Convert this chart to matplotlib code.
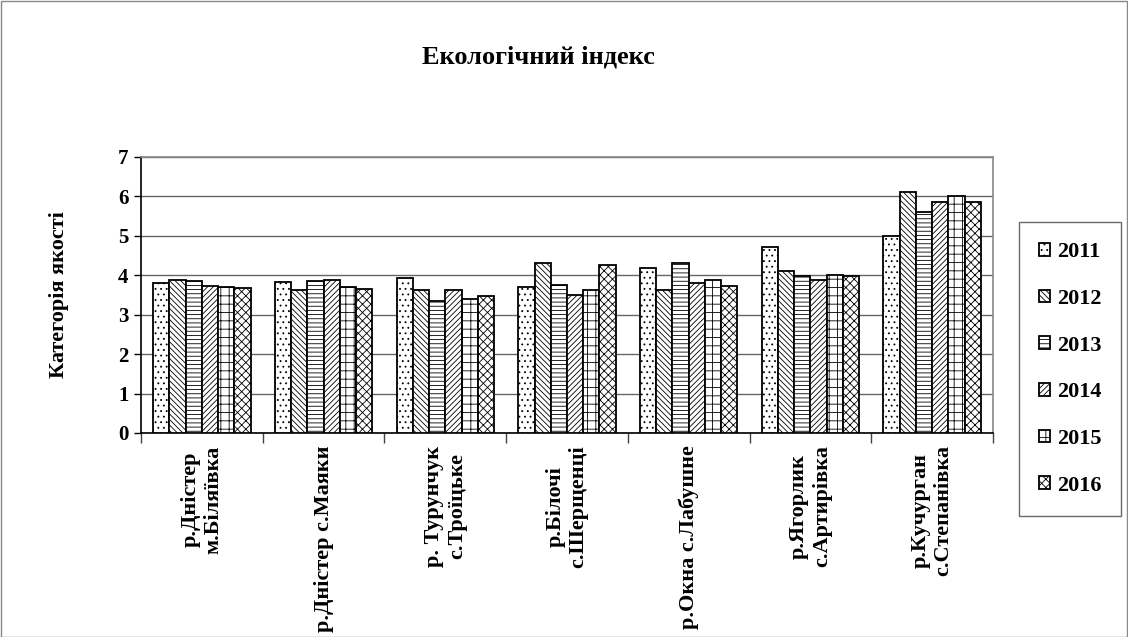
import matplotlib
matplotlib.use("Agg")
import matplotlib.pyplot as plt
import numpy as np
from matplotlib.patches import Rectangle

plt.rcParams['font.family'] = ['Liberation Serif', 'DejaVu Serif']
plt.rcParams['hatch.linewidth'] = 0.6
plt.rcParams['hatch.color'] = '#333333'

categories = ["р.Дністер\nм.Біляївка", "р.Дністер с.Маяки", "р. Турунчук\nс.Троїцьке",
              "р.Білочі\nс.Шерщенці", "р.Окна с.Лабушне", "р.Ягорлик\nс.Артирівка",
              "р.Кучурган\nс.Степанівка"]
years = ["2011", "2012", "2013", "2014", "2015", "2016"]
v2011 = [3.80, 3.83, 3.92, 3.70, 4.19, 4.73, 5.00]
v2012 = [3.89, 3.62, 3.62, 4.30, 3.62, 4.10, 6.11]
v2013 = [3.85, 3.85, 3.36, 3.76, 4.30, 3.98, 5.60]
v2014 = [3.74, 3.89, 3.62, 3.50, 3.80, 3.89, 5.86]
v2015 = [3.70, 3.71, 3.39, 3.62, 3.88, 4.01, 6.00]
v2016 = [3.69, 3.65, 3.47, 4.27, 3.72, 3.98, 5.86]
series = [v2011, v2012, v2013, v2014, v2015, v2016]
hatches = ['...', '\\\\\\\\\\\\', '----', '//////', '++', 'xxxx']

W, H = 1128, 637
fig = plt.figure(figsize=(W/100, H/100), dpi=100)
ax = fig.add_axes([141/W, 1-433/H, (993-141)/W, (433-157)/H])

n = len(series)
x = np.arange(len(categories))
bw = 0.8 / n
for i, (vals, h, lab) in enumerate(zip(series, hatches, years)):
    ax.bar(x - 0.4 + bw*(i+0.5), vals, width=bw, facecolor='white', edgecolor='black',
           linewidth=1.3, hatch=h, label=lab, zorder=3)

ax.set_xlim(-0.5, len(categories)-0.5)
ax.set_ylim(0, 7)
ax.set_yticks(range(0, 8))
ax.set_yticklabels([str(i) for i in range(8)], fontsize=15, fontweight='bold')
ax.yaxis.grid(True, color='#666666', linewidth=1.0, zorder=0)
ax.set_axisbelow(True)
ax.set_xticks(x)
ax.set_xticklabels(categories, rotation=90, fontsize=16, fontweight='bold',
                   va='top', ha='center', multialignment='center', linespacing=1.2)
ax.tick_params(axis='x', which='major', length=0, pad=9)
ax.set_xticks(np.arange(-0.5, len(categories)), minor=True)
ax.tick_params(axis='x', which='minor', length=7, width=1, color='#444444')
ax.tick_params(axis='y', length=5, width=1, pad=4)
for s in ['top', 'right']:
    ax.spines[s].set_color('#888888')
    ax.spines[s].set_linewidth(1.2)
for s in ['left', 'bottom']:
    ax.spines[s].set_color('black')
    ax.spines[s].set_linewidth(1.2)

ax.set_ylabel("Категорія якості", fontsize=16, fontweight='bold', labelpad=35)
fig.text(538/W, 1-57/H, "Екологічний індекс", fontsize=19, fontweight='bold',
         ha='center', va='center')

leg = fig.legend(loc='center', bbox_to_anchor=(1070/W, 1-369/H), frameon=True,
                 fancybox=False, edgecolor='#444444', prop={'weight': 'bold', 'size': 16},
                 handlelength=0.5, handleheight=0.5, handletextpad=0.3,
                 labelspacing=1.2, borderpad=0.9, borderaxespad=0)
leg.get_frame().set_linewidth(1.0)

fig.patches.append(Rectangle((0.5/W, 0.5/H), 1-1.5/W, 1-1.5/H, transform=fig.transFigure,
                             fill=False, edgecolor='#888888', linewidth=1.0))

fig.savefig('out.png', dpi=100)
